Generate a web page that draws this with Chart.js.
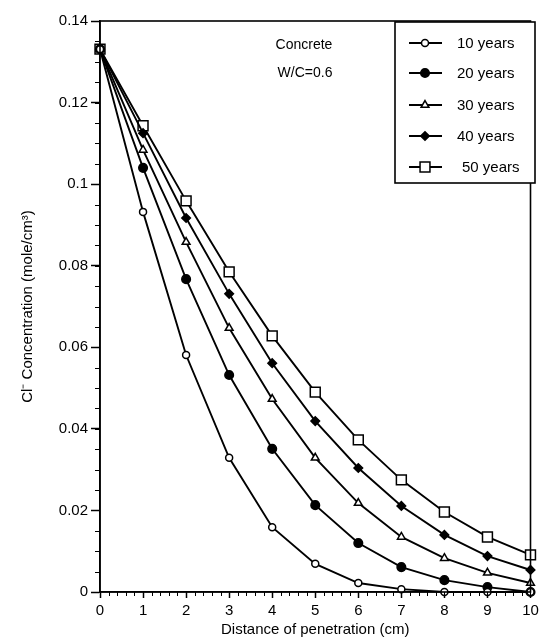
<!DOCTYPE html>
<html>
<head>
<meta charset="utf-8">
<script src="https://cdn.jsdelivr.net/npm/chart.js@4.4.1/dist/chart.umd.min.js"></script>
<style>
  body { margin: 0; background: #fff; }
  #wrap { width: 539px; height: 640px; }
</style>
</head>
<body>
<div id="wrap"><canvas id="grafico" width="539" height="640"></canvas></div>
<script>
// distance of penetration (cm)
const distances = [0, 1, 2, 3, 4, 5, 6, 7, 8, 9, 10];

// Cl- concentration (mole/cm3)
const years10 = [0.1331, 0.0932, 0.0581, 0.0329, 0.0159, 0.0069, 0.0022, 0.0007, 0, 0, 0];
const years20 = [0.1331, 0.1040, 0.0767, 0.0532, 0.0351, 0.0213, 0.0120, 0.0061, 0.0029, 0.0012, 0];
const years30 = [0.1331, 0.1084, 0.0858, 0.0647, 0.0473, 0.0329, 0.0218, 0.0135, 0.0083, 0.0047, 0.0022];
const years40 = [0.1331, 0.1125, 0.0917, 0.0731, 0.0561, 0.0419, 0.0304, 0.0211, 0.0140, 0.0088, 0.0054];
const years50 = [0.1331, 0.1143, 0.0959, 0.0785, 0.0628, 0.0490, 0.0373, 0.0275, 0.0196, 0.0135, 0.0091];

const seriesLabels = ['10 years', '20 years', '30 years', '40 years', '50 years'];
const yTickValues = [0, 0.02, 0.04, 0.06, 0.08, 0.1, 0.12, 0.14];
const xTickValues = [0, 1, 2, 3, 4, 5, 6, 7, 8, 9, 10];
const notes = ['Concrete', 'W/C=0.6'];

const FONT = '"Liberation Sans", Arial, Helvetica, sans-serif';
const INK = '#000';

function serie(label, valores, estilo, raio, cheio) {
    return {
        label: label,
        data: distances.map((d, i) => ({ x: d, y: valores[i] })),
        borderColor: INK,
        borderWidth: 1.9,
        pointStyle: estilo,
        pointRadius: raio,
        pointBorderWidth: 1.5,
        pointBorderColor: INK,
        pointBackgroundColor: cheio ? INK : '#fff',
        tension: 0,
        clip: false
    };
}

const datasets = [
    serie(seriesLabels[0], years10, 'circle', 3.5, false),
    serie(seriesLabels[1], years20, 'circle', 4.3, true),
    serie(seriesLabels[2], years30, 'triangle', 4.5, false),
    serie(seriesLabels[3], years40, 'rectRot', 4.3, true),
    serie(seriesLabels[4], years50, 'rect', 7, false)
];

// frame, minor ticks, notes and the boxed legend
const extras = {
    id: 'extras',
    afterDraw(chart) {
        const ctx = chart.ctx;
        const a = chart.chartArea;
        const xs = chart.scales.x, ys = chart.scales.y;
        ctx.save();
        ctx.strokeStyle = INK;
        ctx.lineWidth = 1.6;
        ctx.strokeRect(a.left, a.top, a.right - a.left, a.bottom - a.top);

        // minor ticks
        ctx.lineWidth = 1;
        ctx.beginPath();
        for (let v = 0; v <= 0.14 + 1e-9; v += 0.005) {
            const py = Math.round(ys.getPixelForValue(v)) + 0.5;
            ctx.moveTo(a.left - 5, py); ctx.lineTo(a.left, py);
        }
        for (let v = 0; v <= 10 + 1e-9; v += 0.2) {
            const px = Math.round(xs.getPixelForValue(v)) + 0.5;
            ctx.moveTo(px, a.bottom); ctx.lineTo(px, a.bottom + 4);
        }
        ctx.stroke();

        // notes
        ctx.fillStyle = INK;
        ctx.font = '14px ' + FONT;
        ctx.textAlign = 'center';
        ctx.textBaseline = 'middle';
        ctx.fillText(notes[0], 304, 45);
        ctx.fillText(notes[1], 305, 73);

        // legend
        const bx = 395, by = 22, bw = 140, bh = 161;
        ctx.fillStyle = '#fff';
        ctx.fillRect(bx, by, bw, bh);
        ctx.lineWidth = 1.6;
        ctx.strokeRect(bx, by, bw, bh);
        const filas = [43, 73, 105, 136, 167];
        ctx.font = '15px ' + FONT;
        ctx.textAlign = 'left';
        chart.data.datasets.forEach((ds, i) => {
            const y = filas[i];
            ctx.strokeStyle = INK;
            ctx.lineWidth = 1.8;
            ctx.beginPath();
            ctx.moveTo(409, y); ctx.lineTo(442, y);
            ctx.stroke();
            ctx.fillStyle = ds.pointBackgroundColor;
            ctx.lineWidth = ds.pointBorderWidth;
            Chart.helpers.drawPoint(ctx, {
                pointStyle: ds.pointStyle,
                rotation: 0,
                radius: ds.pointRadius,
                borderWidth: ds.pointBorderWidth
            }, 425, y);
            ctx.fillStyle = INK;
            ctx.fillText(ds.label, i === 4 ? 462 : 457, y + 1);
        });
        ctx.restore();
    }
};

new Chart(document.getElementById('grafico'), {
    type: 'line',
    data: { datasets: datasets },
    options: {
        responsive: false,
        animation: false,
        layout: { padding: { top: 21, right: 0, left: 0, bottom: 0 } },
        plugins: {
            legend: { display: false },
            tooltip: { enabled: false }
        },
        scales: {
            x: {
                type: 'linear',
                min: 0,
                max: 10,
                afterFit: s => { s.height = 48; s.paddingRight = 8; },
                afterBuildTicks: s => { s.ticks = xTickValues.map(v => ({ value: v })); },
                grid: { drawOnChartArea: false, tickLength: 6, tickWidth: 1.5, tickColor: INK },
                border: { color: INK, width: 1.6 },
                ticks: { color: INK, font: { family: FONT, size: 15 }, padding: 4, maxRotation: 0 },
                title: {
                    display: true,
                    text: 'Distance of penetration (cm)',
                    color: INK,
                    font: { family: FONT, size: 15 },
                    padding: { top: 0, bottom: 1 }
                }
            },
            y: {
                min: 0,
                max: 0.14,
                afterFit: s => { s.width = 100; },
                afterBuildTicks: s => { s.ticks = yTickValues.map(v => ({ value: v })); },
                grid: { drawOnChartArea: false, tickLength: 9, tickWidth: 1.5, tickColor: INK },
                border: { color: INK, width: 1.6 },
                ticks: {
                    color: INK,
                    font: { family: FONT, size: 15 },
                    padding: 3,
                    callback: v => String(Number(v.toFixed(2)))
                },
                title: {
                    display: true,
                    text: 'Cl\u207B Concentration (mole/cm\u00B3)',
                    color: INK,
                    font: { family: FONT, size: 15 },
                    padding: { top: 19, bottom: 0 }
                }
            }
        }
    },
    plugins: [extras]
});
</script>
</body>
</html>
